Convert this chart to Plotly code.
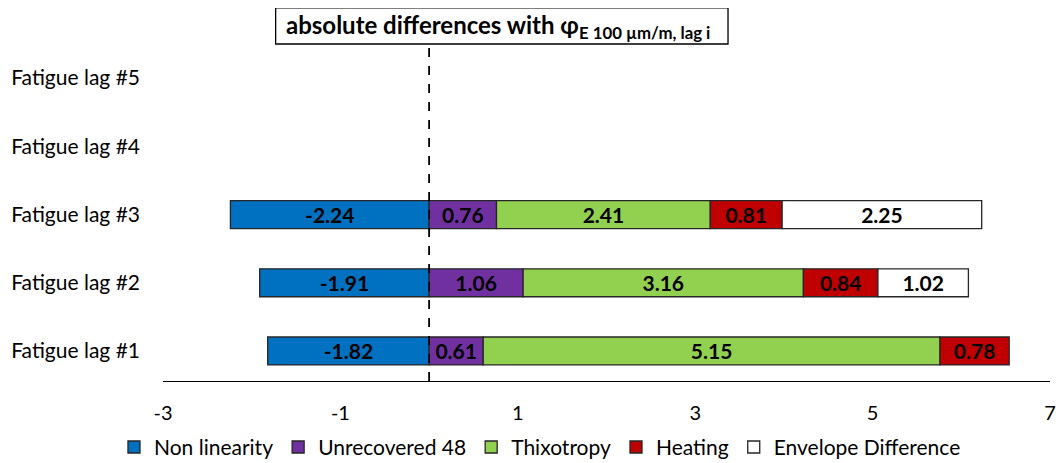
import plotly.graph_objects as go

categories = ["Fatigue lag #1", "Fatigue lag #2", "Fatigue lag #3", "Fatigue lag #4", "Fatigue lag #5"]
non_linearity = [-1.82, -1.91, -2.24, None, None]
unrecovered_48 = [0.61, 1.06, 0.76, None, None]
thixotropy = [5.15, 3.16, 2.41, None, None]
heating = [0.78, 0.84, 0.81, None, None]
envelope_diff = [None, 1.02, 2.25, None, None]
x_ticks = [-3, -1, 1, 3, 5, 7]
x_tick_labels = ["-3", "-1", "1", "3", "5", "7"]

series = [
    ("Non linearity", non_linearity, "#0070C0"),
    ("Unrecovered 48", unrecovered_48, "#7030A0"),
    ("Thixotropy", thixotropy, "#92D050"),
    ("Heating", heating, "#C00000"),
    ("Envelope Difference", envelope_diff, "#FFFFFF"),
]

FONT = "Lato"

fig = go.Figure()
for name, vals, color in series:
    fig.add_trace(go.Bar(
        y=categories, x=vals, name=name, orientation="h",
        marker=dict(color=color, line=dict(color="#262626", width=1.3)),
        width=0.41,
        text=[("%.2f" % v) if v is not None else "" for v in vals],
        textposition="inside", insidetextanchor="middle", textangle=0,
        constraintext="none",
        textfont=dict(family=FONT, size=21, color="black", weight="bold"),
        hoverinfo="skip",
    ))

fig.add_shape(type="line", xref="x", yref="paper", x0=0, x1=0, y0=0, y1=1,
              line=dict(color="black", width=1.8, dash="dash"))

# title box
fig.add_shape(type="rect", xref="paper", yref="paper", x0=0.127, x1=0.637, y0=1.0, y1=1.107,
              line=dict(color="black", width=1.3), fillcolor="white", layer="above")

fig.add_annotation(
    xref="paper", yref="paper", x=0.378, y=1.052, yanchor="middle", xanchor="center",
    text="<b>absolute differences with φ<sub>E 100 µm/m, lag i</sub></b>",
    showarrow=False, font=dict(family=FONT, size=24, color="black"),
)

fig.update_layout(
    width=1048, height=455,
    barmode="relative",
    plot_bgcolor="white", paper_bgcolor="white",
    margin=dict(l=155, r=6, t=36, b=82, autoexpand=False),
    font=dict(family=FONT, size=21, color="black"),
    xaxis=dict(range=[-3, 7], tickvals=x_ticks, ticktext=x_tick_labels,
               showgrid=False, zeroline=False, automargin=False,
               showline=True, linecolor="black", linewidth=1.3, ticks="",
               tickfont=dict(family=FONT, size=20), ticklabelstandoff=14),
    yaxis=dict(type="category", categoryorder="array", categoryarray=categories,
               range=[-0.44, 4.5], showgrid=False, zeroline=False, showline=False,
               automargin=False,
               ticks="", tickfont=dict(family=FONT, size=21), ticklabelstandoff=22),
    legend=dict(orientation="h", x=0.425, xanchor="center", y=-0.136, yanchor="top",
                font=dict(family=FONT, size=21), itemwidth=30, traceorder="normal"),
    showlegend=True,
)

fig.write_html("out.html")
